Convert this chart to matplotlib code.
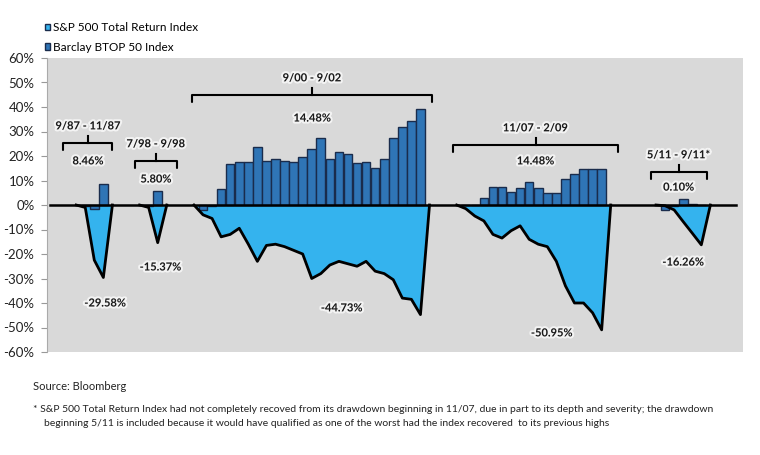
import matplotlib
matplotlib.use('Agg')
import numpy as np
import matplotlib.pyplot as plt
from matplotlib.patches import Patch
import matplotlib.patheffects as pe

plt.rcParams['font.family'] = ['Lato', 'DejaVu Sans']

# drawdown episodes, monthly values in %
periods = ['9/87 - 11/87', '7/98 - 9/98', '9/00 - 9/02', '11/07 - 2/09', '5/11 - 9/11*']
btop_labels = ['8.46%', '5.80%', '14.48%', '14.48%', '0.10%']

sp_87 = [-1.0, -22.5, -29.58]
btop_87 = [-0.3, -1.5, 8.46]

sp_98 = [-1.0, -15.37]
btop_98 = [-0.5, 5.80]

sp_00 = [-4, -5.5, -13, -12, -9.5, -16, -23, -16.5, -16, -17, -18.5, -20, -30,
         -28, -24.5, -23, -24, -25, -23, -27, -28, -30.5, -38, -38.5, -44.73]
btop_00 = [-2, -0.5, 6.5, 16.7, 17.5, 17.5, 23.7, 18, 18.8, 18, 17.5, 19.6, 22.8,
           27.4, 18.8, 21.6, 20.8, 17, 17.5, 15, 18.8, 27.4, 31.8, 34.3, 39.2]

sp_07 = [-1.5, -4.5, -6.5, -12, -13.5, -10.5, -8.5, -14, -16, -17, -23, -33,
         -40, -40, -44, -50.95]
btop_07 = [0, 0, 2.8, 7.5, 7.5, 5.5, 6.8, 9.5, 6.8, 5, 5, 10.5, 12.7, 14.7, 14.7, 14.7]

sp_11 = [-0.3, -2, -6.8, -11.5, -16.26]
btop_11 = [-2.2, -0.5, 2.3, 0.4, 0.1]

sp_series = [sp_87, sp_98, sp_00, sp_07, sp_11]
btop_series = [btop_87, btop_98, btop_00, btop_07, btop_11]

# layout: month slot where each episode starts (blank months between them)
starts = [4, 11, 17, 46, 68]
bracket_x = [(1.6, 7.0), (9.5, 14.1), (15.8, 42.3), (44.6, 62.8), (66.4, 72.6)]
bracket_y = [25.3, 18.0, 44.9, 24.5, 13.5]
pct_y = [18.0, 10.6, 35.5, 18.0, 7.3]
dd_pos = [(6.2, -40), (12.3, -25.3), (32.3, -42), (55.5, -52.2), (70.0, -23.3)]

light_blue = '#34b3ee'
bar_blue = '#2f75b6'
edge_dark = '#1a2c4c'

fig = plt.figure(figsize=(7.6, 4.55), dpi=100)
ax = fig.add_axes([47/760, 1-352/455, 696/760, 294/455])
ax.set_facecolor('#d9d9d9')

halo = [pe.withStroke(linewidth=3, foreground='white', alpha=0.7)]

for i, (sp, bt) in enumerate(zip(sp_series, btop_series)):
    s = starts[i]
    xs = np.arange(s - 1, s + len(sp) + 1)
    ys = np.r_[0, sp, 0]
    ax.fill_between(xs, ys, 0, color=light_blue, lw=0, zorder=1)
    ax.bar(np.arange(s, s + len(bt)), bt, width=0.95, color=bar_blue,
           edgecolor=edge_dark, linewidth=1.0, zorder=2)
    ax.plot(xs, ys, color='black', lw=2.0, zorder=3, solid_joinstyle='round')

    # bracket over the episode
    x0, x1 = bracket_x[i]
    y = bracket_y[i]
    xm = (x0 + x1) / 2
    ax.plot([x0, x0, x1, x1], [y - 2.8, y, y, y - 2.8], color='black', lw=1.5,
            zorder=5, solid_capstyle='round', solid_joinstyle='round')
    ax.plot([xm, xm], [y, y + 3], color='black', lw=1.5, zorder=5)
    ax.text(xm, y + 7, periods[i], ha='center', va='center', fontsize=8,
            fontweight='bold', color='#1a1a1a', path_effects=halo, zorder=6)
    ax.text(xm, pct_y[i], btop_labels[i], ha='center', va='center', fontsize=8,
            fontweight='bold', color='#1a1a1a', path_effects=halo, zorder=6)
    ax.text(dd_pos[i][0], dd_pos[i][1], f"{min(sp):.2f}%", ha='center', va='center',
            fontsize=8, fontweight='bold', color='#1a1a1a', path_effects=halo, zorder=6)

ax.axhline(0, xmin=0.004, xmax=0.99, color='black', lw=1.8, zorder=4)

ax.set_xlim(-0.22, 76.6)
ax.set_ylim(-60, 60)
yt = list(range(-60, 61, 10))
ax.set_yticks(yt)
ax.set_yticklabels([f"{v}%" for v in yt])
ax.set_xticks([])
ax.tick_params(axis='y', length=4, width=0.8, color='#999999', labelsize=9.5,
               labelcolor='#222222', pad=5)
for side in ['top', 'right', 'bottom']:
    ax.spines[side].set_visible(False)
ax.spines['left'].set_color('#aaaaaa')
ax.spines['left'].set_linewidth(0.8)

handles = [Patch(facecolor=light_blue, edgecolor=edge_dark, lw=1.0),
           Patch(facecolor=bar_blue, edgecolor=edge_dark, lw=1.0)]
fig.legend(handles, ['S&P 500 Total Return Index', 'Barclay BTOP 50 Index'],
           loc='upper left', bbox_to_anchor=(45/760, 1-22/455), frameon=False,
           handlelength=0.45, handleheight=0.45, handletextpad=0.2,
           labelspacing=0.75, borderpad=0, borderaxespad=0, fontsize=8.5)

fig.text(33/760, 1-387/455, 'Source: Bloomberg', fontsize=8, va='center', color='#222222')
fig.text(33/760, 1-409/455,
         '* S&P 500 Total Return Index had not completely recoved from its drawdown beginning '
         'in 11/07, due in part to its depth and severity; the drawdown',
         fontsize=7.5, va='center', color='#222222')
fig.text(44/760, 1-423/455,
         'beginning 5/11 is included because it would have qualified as one of the worst had '
         'the index recovered  to its previous highs',
         fontsize=7.5, va='center', color='#222222')

fig.savefig('out.png', dpi=100)
